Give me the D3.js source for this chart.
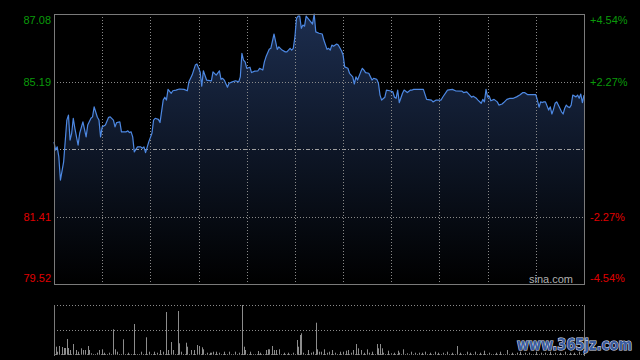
<!DOCTYPE html>
<html><head><meta charset="utf-8">
<script src="https://cdn.jsdelivr.net/npm/d3@7"></script>
<style>html,body{margin:0;padding:0;background:#000;}svg{display:block;}</style>
</head><body><svg id="c" width="640" height="360"></svg>
<script>
// ---- data ----
const priceMinutes = [0,1,2,3,4,6,8,9,10,11,12,13,15,16,18,20,21,23,24,25,27,28,29,30,32,34,35,37,38,39,41,42,45,46,47,48,49,50,52,54,55,56,57,59,61,62,63,65,66,68,69,70,71,73,74,76,78,81,83,84,86,88,89,91,92,93,95,98,99,101,103,104,105,106,108,109,111,113,115,116,117,118,119,120,122,123,125,127,128,130,131,132,134,135,137,139,140,142,144,145,147,148,149,150,151,152,153,154,155,156,157,159,161,162,163,165,167,168,170,171,172,173,174,176,177,179,180,181,183,184,186,187,188,189,191,192,193,194,196,198,199,201,202,203,204,206,207,209,211,212,213,214,215,217,218,220,222,223,224,225,230,232,235,236,238,241,242,245,248,250,254,255,257,260,261,263,264,266,267,268,269,270,271,272,274,276,277,279,280,282,284,286,288,290,292,293,295,300,301,302,303,304,305,306,308,309,310,311,312,313,314,316,317,318,319,320,321,322,323,325,326,327,328,329,330];
const prices = [83.50,83.27,83.36,83.08,82.43,82.94,84.11,84.25,83.55,83.74,84.16,83.88,83.41,83.74,84.06,83.64,83.97,84.16,84.20,84.48,84.19,84.11,83.64,83.92,83.97,84.19,84.20,84.11,83.92,84.04,84.06,83.78,83.78,83.81,83.76,83.78,83.64,83.22,83.36,83.36,83.32,83.36,83.20,83.50,83.74,84.11,84.16,84.13,84.04,84.67,84.75,84.67,84.97,84.86,84.93,84.95,84.98,84.97,84.93,85.18,85.37,85.65,85.68,85.46,85.06,85.49,85.23,85.21,85.46,85.37,85.49,85.25,85.28,85.23,85.03,85.14,85.18,85.21,85.18,85.32,85.98,85.79,85.74,85.56,85.59,85.44,85.48,85.49,85.56,85.51,85.74,85.88,86.09,86.12,86.52,86.09,86.16,86.07,86.02,86.02,86.12,86.07,86.12,86.44,86.96,87.02,87.02,86.68,86.77,86.74,87.02,86.91,86.80,87.08,86.58,86.54,86.52,86.35,86.09,86.12,86.07,86.21,86.18,86.24,86.21,86.05,85.93,85.60,85.56,85.42,85.32,85.12,85.32,85.23,85.46,85.56,85.51,85.44,85.42,85.23,85.28,85.25,85.14,84.81,84.67,84.75,84.95,84.93,84.90,84.75,84.72,84.95,84.60,84.86,84.95,84.88,84.95,84.95,84.97,84.97,84.97,84.69,84.67,84.62,84.67,84.67,84.75,84.95,84.97,84.93,84.92,84.88,84.90,84.75,84.78,84.72,84.67,84.58,84.69,84.62,84.97,84.75,84.78,84.65,84.69,84.62,84.53,84.56,84.60,84.69,84.72,84.72,84.76,84.81,84.88,84.88,84.82,84.82,84.67,84.47,84.62,84.60,84.62,84.62,84.39,84.48,84.28,84.41,84.58,84.62,84.53,84.34,84.28,84.44,84.53,84.48,84.46,84.53,84.81,84.76,84.81,84.72,84.84,84.60,84.81];
const volMinutes = [1,2,3,5,6,7,8,9,10,12,14,15,17,18,19,21,22,23,27,28,30,31,34,37,38,39,43,46,50,54,57,59,62,64,66,68,70,71,73,74,77,78,79,82,83,85,87,89,90,92,93,95,97,98,99,101,103,106,109,113,115,117,118,119,122,127,128,132,133,134,136,137,138,140,143,146,149,151,152,153,154,155,158,160,161,163,164,165,166,168,170,171,173,175,178,180,182,183,185,186,188,189,191,193,195,196,198,201,202,203,204,205,208,210,212,214,215,217,220,222,225,227,229,231,234,237,239,242,245,248,251,253,257,259,262,265,268,271,275,278,282,285,288,290,293,296,300,303,306,309,312,315,318,321,324,327];
const volumes = [8.3,3.3,9,8,7,7,16,7,5,11,5,3.3,6.7,5,5,9,5,1.7,2.3,5,5.7,2.3,2.3,25.7,5.7,3.3,15.7,2.3,31,3.3,17.7,3.3,3.3,2.3,5,3.3,43,5,13,5,44,11.7,3.3,12.3,8.3,5,5,10,9,7.7,5.7,2.3,2.3,2.3,3.3,3.3,2.3,3.3,3.3,3.3,2.3,50,8.3,5,3.3,4,2.3,5,5.7,5.7,9,5,5,5.7,2.3,2.3,2.3,15,8.3,20,21.7,2.3,5,2.3,3.3,32.3,5.7,3.3,3.3,5.7,2.3,3.3,5,2.3,3.3,3.3,4.3,5,2.3,5,11,6.7,5,2.3,5.7,2.3,3.3,11,6.7,11,6.7,2.3,4.3,1.7,2.3,4.3,2.3,5.7,1.7,3.3,2.3,2.3,2.3,3.3,2.3,3.3,2.3,2.3,3.3,2.3,9,2.3,3.3,2.3,3.3,2.3,4.3,2.3,2.3,3.3,5,2.3,2.3,3.3,2.3,2.3,3.3,2.3,2.3,3.3,2.3,2.3,3.3,2.3,2.3,3.3];
const leftTicks = ["87.08","85.19","81.41","79.52"];
const rightTicks = ["+4.54%","+2.27%","-2.27%","-4.54%"];
const priceMax = 87.08, priceMin = 79.52, prevClose = 83.30;
const totalMinutes = 330, gridStep = 30;

// ---- layout ----
const L = 54, R = 584, T = 14, B = 284, VT = 305, VB = 355;
const svg = d3.select("#c");
const x = d3.scaleLinear().domain([0, totalMinutes]).range([L, R]);
const y = d3.scaleLinear().domain([priceMin, priceMax]).range([B, T]);
const yv = d3.scaleLinear().domain([0, d3.max(volumes)]).range([VB, VT]);

const defs = svg.append("defs");
const grad = defs.append("linearGradient").attr("id","ag")
  .attr("gradientUnits","userSpaceOnUse").attr("x1",0).attr("x2",0).attr("y1",T).attr("y2",B);
grad.append("stop").attr("offset","0%").attr("stop-color","#1c2d4e");
grad.append("stop").attr("offset","100%").attr("stop-color","#000000");

const pts = priceMinutes.map((m,i)=>({m, p: prices[i]}));

// area
svg.append("path").datum(pts)
  .attr("d", d3.area().x(d=>x(d.m)).y0(B).y1(d=>y(d.p)))
  .attr("fill","url(#ag)");

// grid
const gridCol = "#8a8a8a";
[85.19, 81.41].forEach(v=>{
  svg.append("line").attr("x1",L).attr("x2",R).attr("y1",Math.round(y(v))+0.5).attr("y2",Math.round(y(v))+0.5)
    .attr("stroke",gridCol).attr("stroke-dasharray","1,2");
});
svg.append("line").attr("x1",L).attr("x2",R).attr("y1",Math.round(y(prevClose))+0.5).attr("y2",Math.round(y(prevClose))+0.5)
  .attr("stroke","#a0a0a0").attr("stroke-dasharray","4,2,1,2");
d3.range(gridStep, totalMinutes, gridStep).forEach(m=>{
  svg.append("line").attr("x1",Math.round(x(m))+0.5).attr("x2",Math.round(x(m))+0.5).attr("y1",T).attr("y2",B)
    .attr("stroke",gridCol).attr("stroke-dasharray","1,2");
});

// price line
svg.append("path").datum(pts)
  .attr("d", d3.line().x(d=>x(d.m)).y(d=>y(d.p)))
  .attr("fill","none").attr("stroke","#4d88e2").attr("stroke-width",1.2).attr("stroke-linejoin","round");

// frame
svg.append("rect").attr("x",L+0.5).attr("y",T+0.5).attr("width",R-L).attr("height",B-T)
  .attr("fill","none").attr("stroke","#7a7a7a");

// labels
const labVals = [priceMax, 85.19, 81.41, priceMin];
const labOff = [10, 4, 4, -2];
leftTicks.forEach((t,i)=>{
  svg.append("text").attr("x",51).attr("y",y(labVals[i])+labOff[i]).attr("text-anchor","end")
    .attr("font-family","Liberation Sans, Arial, sans-serif").attr("font-size",11)
    .attr("fill", i<2 ? "#0a9a0a" : "#e00000").text(t);
});
rightTicks.forEach((t,i)=>{
  svg.append("text").attr("x",590).attr("y",y(labVals[i])+labOff[i]).attr("text-anchor","start")
    .attr("font-family","Liberation Sans, Arial, sans-serif").attr("font-size",11)
    .attr("fill", i<2 ? "#0a9a0a" : "#e00000").text(t);
});
svg.append("text").attr("x",573).attr("y",283).attr("text-anchor","end")
  .attr("font-family","Liberation Sans, Arial, sans-serif").attr("font-size",11)
  .attr("fill","#b0b0b0").text("sina.com");

// volume panel
svg.append("line").attr("x1",L).attr("x2",R).attr("y1",VT+0.5).attr("y2",VT+0.5).attr("stroke",gridCol).attr("stroke-dasharray","1,2");
svg.append("line").attr("x1",L).attr("x2",R).attr("y1",(VT+VB)/2+0.5).attr("y2",(VT+VB)/2+0.5).attr("stroke",gridCol).attr("stroke-dasharray","1,2");
svg.append("line").attr("x1",L+0.5).attr("x2",L+0.5).attr("y1",VT).attr("y2",VB+1).attr("stroke","#7a7a7a");
svg.append("line").attr("x1",R+0.5).attr("x2",R+0.5).attr("y1",VT).attr("y2",VB+1).attr("stroke","#7a7a7a");
svg.selectAll("rect.v").data(volMinutes).enter().append("rect").attr("class","v")
  .attr("x",m=>Math.round(x(m))).attr("width",1)
  .attr("y",(m,i)=>yv(volumes[i])).attr("height",(m,i)=>VB-yv(volumes[i]))
  .attr("fill","#8c8c8c");
svg.append("line").attr("x1",L+1).attr("x2",R).attr("y1",VB-0.5).attr("y2",VB-0.5)
  .attr("stroke","#6a6a6a").attr("stroke-dasharray","1,1");

// site watermark
svg.append("text").attr("x",517).attr("y",350).attr("textLength",115).attr("lengthAdjust","spacingAndGlyphs")
  .attr("font-family","DejaVu Sans, sans-serif").attr("font-weight","bold").attr("font-size",15)
  .attr("fill","#3a5c9e").attr("stroke","#d8dfee").attr("stroke-width",1.2).attr("paint-order","stroke")
  .text("www.365jz.com");
</script></body></html>
